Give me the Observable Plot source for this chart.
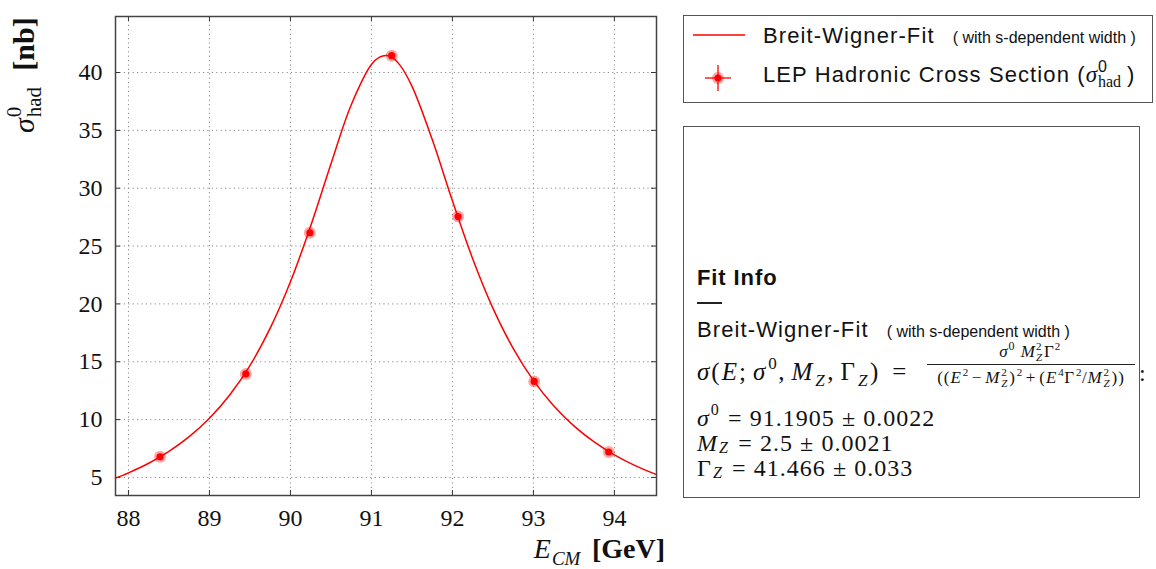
<!DOCTYPE html>
<html><head><meta charset="utf-8">
<script src="https://cdn.jsdelivr.net/npm/d3@7"></script>
<script src="https://cdn.jsdelivr.net/npm/@observablehq/plot@0.6"></script>
<style>
body{margin:0;background:#fff;}
#wrap{position:relative;width:1156px;height:569px;overflow:hidden;font-family:"Liberation Serif",serif;color:#111;}
#chart{position:absolute;left:0;top:0;}
.box{position:absolute;border:1.5px solid #555;box-sizing:border-box;}
.t{position:absolute;white-space:nowrap;line-height:1;}
.sans{font-family:"Liberation Sans",Arial,sans-serif;}
.lg{font-size:22px;letter-spacing:1.1px;}
.small{font-size:16px;letter-spacing:0;}
.m{font-family:"Liberation Serif",serif;font-style:italic;}
.n{font-style:normal;}
.ss{display:inline-block;position:relative;height:0;vertical-align:baseline;letter-spacing:0;}
.ss > span{position:absolute;left:1px;line-height:1;white-space:nowrap;}
.op{margin:0 0.3em;}
</style>
</head><body>
<div id="wrap">
  <div id="chart"></div>
  <div class="t" id="ylab" style="left:9px;top:133px;width:200px;transform-origin:0 0;transform:rotate(-90deg);font-size:30px;"></div>
  <div class="t" id="xlab" style="right:491px;top:535px;font-size:28px;"></div>

  <!-- legend -->
  <div class="box" style="left:683px;top:15px;width:470px;height:88px;"></div>
  <svg style="position:absolute;left:683px;top:15px;" width="100" height="88">
    <line x1="10" x2="62" y1="20" y2="20" stroke="red" stroke-width="1.3"/>
    <line x1="22" x2="48" y1="63" y2="63" stroke="red" stroke-width="1.3"/>
    <line x1="35" x2="35" y1="50" y2="76" stroke="red" stroke-width="1.3"/>
    <circle cx="35" cy="63" r="6" fill="red" fill-opacity="0.35"/>
    <circle cx="35" cy="63" r="3.6" fill="red"/>
  </svg>
  <div class="t sans lg" style="left:763px;top:25px;">Breit-Wigner-Fit<span class="small" style="margin-left:18px;">( with s-dependent width )</span></div>
  <div class="t sans lg" id="leg2" style="left:763px;top:63px;"></div>

  <!-- fit info -->
  <div class="box" style="left:683px;top:126px;width:457px;height:372px;"></div>
  <div class="t sans" style="left:697px;top:267px;font-size:22px;letter-spacing:0.9px;font-weight:bold;">Fit Info</div>
  <div style="position:absolute;left:697px;top:302px;width:25px;height:1.5px;background:#222;"></div>
  <div class="t sans lg" style="left:697px;top:319px;">Breit-Wigner-Fit<span class="small" style="margin-left:18px;">( with s-dependent width )</span></div>
  <div class="t" id="lhs" style="left:697px;top:359px;font-size:25px;letter-spacing:2px;"></div>
  <div class="t" id="num" style="left:927px;top:343px;width:206px;text-align:center;font-size:17px;"></div>
  <div style="position:absolute;left:927px;top:364px;width:208px;height:1px;background:#222;"></div>
  <div class="t" id="den" style="left:925px;top:369px;width:212px;text-align:center;font-size:17px;letter-spacing:0.9px;"></div>
  <div class="t" style="left:1139px;top:361px;font-size:24px;">:</div>
  <div class="t" id="p1" style="left:697px;top:406px;font-size:24px;letter-spacing:1px;"></div>
  <div class="t" id="p2" style="left:697px;top:431px;font-size:24px;letter-spacing:1px;"></div>
  <div class="t" id="p3" style="left:697px;top:456px;font-size:24px;letter-spacing:1px;"></div>
</div>
<script>
// measured LEP hadronic cross section points
const energy = [88.39, 89.45, 90.24, 91.25, 92.07, 93.01, 93.93];
const sigma  = [6.78, 13.95, 26.15, 41.45, 27.55, 13.3, 7.2];
// fitted curve
const fitE = [87.84, 88.0, 88.25, 88.5, 88.75, 89.0, 89.25, 89.5, 89.75, 90.0, 90.25, 90.5, 90.75, 91.0, 91.1, 91.19, 91.25, 91.35, 91.5, 91.75, 92.0, 92.25, 92.5, 92.75, 93.0, 93.25, 93.5, 93.75, 94.0, 94.25, 94.52];
const fitSigma = [4.94, 5.40, 6.23, 7.26, 8.53, 10.12, 12.13, 14.67, 17.90, 21.91, 26.74, 32.09, 37.19, 40.69, 41.33, 41.47, 41.32, 40.66, 38.82, 34.22, 28.91, 23.91, 19.64, 16.16, 13.39, 11.20, 9.46, 8.07, 6.95, 6.04, 5.24];
const xTicks = [88, 89, 90, 91, 92, 93, 94];
const yTicks = [5, 10, 15, 20, 25, 30, 35, 40];
const params = [
  ["σ", "0", "", "91.1905", "0.0022"],
  ["M", "", "Z", "2.5", "0.0021"],
  ["Γ", "", "Z", "41.466", "0.033"]
];

const points = energy.map((e, i) => ({e, s: sigma[i]}));
const fit = fitE.map((e, i) => ({e, s: fitSigma[i]}));

const W = 680, H = 569, mL = 115, mR = 24, mT = 16, mB = 74;
const fw = W - mL - mR, fh = H - mT - mB;
const grid = {stroke: "#8a8a8a", strokeOpacity: 1, strokeWidth: 1, strokeDasharray: "1.2,3.2"};

const chart = Plot.plot({
  width: W, height: H,
  marginLeft: mL, marginRight: mR, marginTop: mT, marginBottom: mB,
  style: {fontFamily: "'Liberation Serif', serif", fontSize: "24px", color: "#111", background: "white"},
  x: {domain: [87.84, 94.52]},
  y: {domain: [3.44, 44.84]},
  marks: [
    Plot.gridX(xTicks, grid),
    Plot.gridY(yTicks, grid),
    Plot.tickX(xTicks, {x: d => d, insetTop: fh - 5, stroke: "#333"}),
    Plot.tickX(xTicks, {x: d => d, insetBottom: fh - 5, stroke: "#333"}),
    Plot.tickY(yTicks, {y: d => d, insetRight: fw - 5, stroke: "#333"}),
    Plot.tickY(yTicks, {y: d => d, insetLeft: fw - 5, stroke: "#333"}),
    Plot.axisX(xTicks, {tickSize: 0, tickPadding: 13, label: null, fontSize: 24}),
    Plot.axisY(yTicks, {tickSize: 0, tickPadding: 13, label: null, fontSize: 24}),
    Plot.line(fit, {x: "e", y: "s", stroke: "red", strokeWidth: 1.5, curve: "catmull-rom"}),
    Plot.dot(points, {x: "e", y: "s", r: 6, fill: "red", fillOpacity: 0.35}),
    Plot.dot(points, {x: "e", y: "s", r: 3.6, fill: "red"}),
    Plot.frame({stroke: "#444", strokeWidth: 1.5})
  ]
});
document.getElementById("chart").appendChild(chart);

// scripts: P = parent font size, fs = script font size, w = reserved width
function scr(P, fs, w, supT, subT, cls = "", subK = 0.24) {
  let h = `<span class="ss" style="width:${w}px;">`;
  if (supT) h += `<span class="${cls}" style="top:${Math.round(-0.42 * P - 0.84 * fs)}px;font-size:${fs}px;">${supT}</span>`;
  if (subT) h += `<span class="m${cls ? " " + cls : ""}" style="top:${Math.round(subK * P - 0.84 * fs)}px;font-size:${fs}px;">${subT}</span>`;
  return h + `</span>`;
}
const it = t => `<span class="m">${t}</span>`;

document.getElementById("ylab").innerHTML =
  `${it("σ")}${scr(30, 21, 40, "0", "had", "n")} <b>[nb]</b>`;
document.getElementById("xlab").innerHTML =
  `${it("E")}${scr(28, 19, 34, "", "CM")} <b>[GeV]</b>`;
document.getElementById("leg2").innerHTML =
  `LEP Hadronic Cross Section (<span class="m" style="font-size:23px;letter-spacing:0;">σ</span>${scr(22, 16, 30, "0", "had", "n")})`;
document.getElementById("lhs").innerHTML =
  `${it("σ")}(${it("E")};<span style="margin-left:5px;"></span>${it("σ")}${scr(25, 17, 11, "0", "")},<span style="margin-left:5px;"></span>${it("M")}${scr(25, 17, 13, "", "Z")},<span style="margin-left:5px;"></span>Γ${scr(25, 17, 13, "", "Z")})<span style="margin:0 10px 0 12px;">=</span>`;
document.getElementById("num").innerHTML =
  `${it("σ")}${scr(17, 12, 9, "0", "")} ${it("M")}${scr(17, 11, 9, "2", "Z")}Γ${scr(17, 11, 7, "2", "")}`;
document.getElementById("den").innerHTML =
  `((${it("E")}${scr(17, 11, 7, "2", "")}<span style="margin:0 3px;">−</span>${it("M")}${scr(17, 11, 9, "2", "Z")})${scr(17, 11, 7, "2", "")}<span style="margin:0 3px;">+</span>(${it("E")}${scr(17, 11, 7, "4", "")}Γ${scr(17, 11, 7, "2", "")}/${it("M")}${scr(17, 11, 9, "2", "Z")}))`;

params.forEach((p, i) => {
  const el = document.getElementById("p" + (i + 1));
  el.innerHTML = `<span class="m${p[0] === "Γ" ? " n" : ""}">${p[0]}</span>` +
    scr(24, 16, p[1] ? 11 : 13, p[1], p[2], "", 0.1) +
    `<span class="op">=</span>${p[3]}<span class="op">±</span>${p[4]}`;
});
</script>
</body></html>
